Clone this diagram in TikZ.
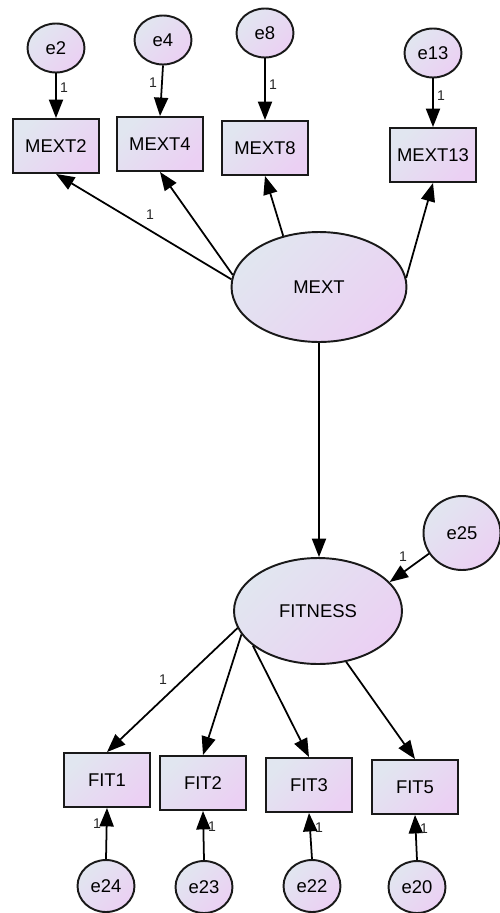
\documentclass[tikz,border=0pt]{standalone}
\usepackage{fontspec}
\setmainfont{Liberation Sans}
\usetikzlibrary{shapes.geometric,arrows.meta}
\definecolor{gA}{RGB}{225,230,240}
\definecolor{gB}{RGB}{235,208,243}
\tikzset{
  grad/.style={top color=gA, bottom color=gB, shading angle=45, draw=black!90, line width=1.1pt},
  obs/.style={grad, rectangle, minimum width=1.72cm, minimum height=1.08cm, inner sep=0pt, font=\fontsize{10.5}{12}\selectfont},
  err/.style={grad, ellipse, minimum width=1.14cm, minimum height=0.98cm, inner sep=0pt, font=\fontsize{10.5}{12}\selectfont},
  lat/.style={grad, ellipse, inner sep=0pt, font=\fontsize{10.5}{12}\selectfont},
  path/.style={line width=1pt, draw=black, -{Triangle[length=10.5pt,width=8pt]}},
  one/.style={font=\fontsize{8}{9}\selectfont, inner sep=0pt, text=black!85}
}
\begin{document}
\begin{tikzpicture}[x=0.02cm,y=-0.02cm]
\useasboundingbox (0,0) rectangle (500,913);
% error terms top
\node[err] (e2) at (56,48) {e2};
\node[err] (e4) at (163,40) {e4};
\node[err] (e8) at (265,33) {e8};
\node[err] (e13) at (433,53) {e13};
% observed top
\node[obs] (m2) at (56,146) {MEXT2};
\node[obs] (m4) at (160,144) {MEXT4};
\node[obs] (m8) at (265,148) {MEXT8};
\node[obs] (m13) at (433,155) {MEXT13};
% latent
\node[lat, minimum width=3.5cm, minimum height=2.2cm] (mext) at (319,287) {MEXT};
\node[lat, minimum width=3.36cm, minimum height=2.12cm] (fit) at (318,611) {FITNESS};
\node[err, minimum width=1.54cm, minimum height=1.48cm] (e25) at (462,533) {e25};
% observed bottom
\node[obs] (f1) at (107,780) {FIT1};
\node[obs] (f2) at (203,783) {FIT2};
\node[obs] (f3) at (309,785) {FIT3};
\node[obs] (f5) at (415,787) {FIT5};
% error terms bottom
\node[err, minimum height=1.04cm] (e24) at (106,886) {e24};
\node[err, minimum height=1.04cm] (e23) at (204,887) {e23};
\node[err, minimum height=1.04cm] (e22) at (312,886) {e22};
\node[err, minimum height=1.04cm] (e20) at (417,887) {e20};
% paths top
\draw[path] (e2.south) -- (m2.north);
\draw[path] (e4.south) -- (m4.north);
\draw[path] (e8.south) -- (m8.north);
\draw[path] (e13.south) -- (m13.north);
\draw[path] (mext.175) -- (m2.south);
\draw[path] (mext.172) -- (m4.south);
\draw[path] (mext.125) -- (m8.south);
\draw[path] (mext.6) -- (m13.south);
\draw[path] (mext.south) -- (mext.south |- fit.north);
\draw[path] (e25.212) -- (fit.22);
\draw[path] (fit.192) -- (f1.north);
\draw[path] (fit.197) -- (f2.north);
\draw[path] (fit.208) -- (f3.north);
\draw[path] (fit.299) -- (f5.north);
\draw[path] (e24.north) -- (f1.south);
\draw[path] (e23.north) -- (f2.south);
\draw[path] (e22.north) -- (f3.south);
\draw[path] (e20.north) -- (f5.south);
% labels
\node[one] (l1) at (64,88) {1};
\node[one] (l2) at (153,83) {1};
\node[one] (l3) at (273,85) {1};
\node[one] (l4) at (441,96) {1};
\node[one] (l5) at (150,215) {1};
\node[one] (l6) at (403,557) {1};
\node[one] (l7) at (163,680) {1};
\node[one] (l8) at (97,824) {1};
\node[one] (l9) at (212,827) {1};
\node[one] (l10) at (319,828) {1};
\node[one] (l11) at (424,829) {1};
\end{tikzpicture}
\end{document}
